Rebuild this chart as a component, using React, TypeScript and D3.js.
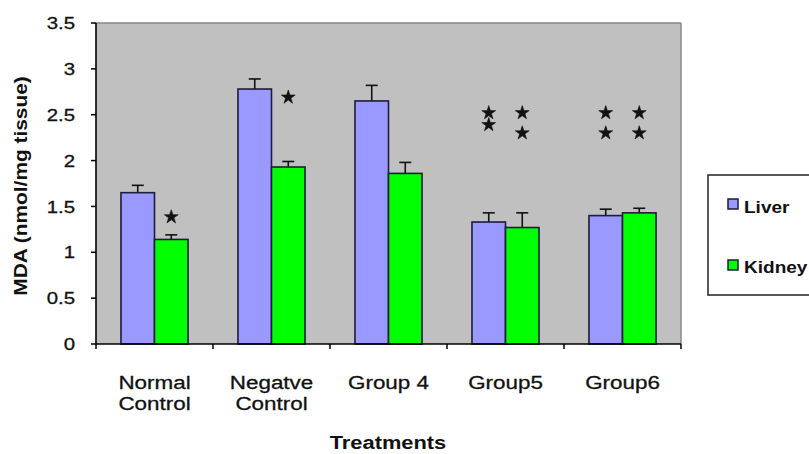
import React from "react";
import * as d3 from "d3";

const categories: string[][] = [
  ["Normal", "Control"],
  ["Negatve", "Control"],
  ["Group 4"],
  ["Group5"],
  ["Group6"],
];
const categoryKeys = ["Normal Control", "Negatve Control", "Group 4", "Group5", "Group6"];
const seriesNames = ["Liver", "Kidney"];
const seriesColors = ["#9999ff", "#00ff00"];
const liver = [1.65, 2.78, 2.65, 1.33, 1.4];
const liverErr = [0.08, 0.11, 0.17, 0.1, 0.07];
const kidney = [1.14, 1.93, 1.86, 1.27, 1.43];
const kidneyErr = [0.05, 0.06, 0.12, 0.16, 0.05];
const yTicks = [0, 0.5, 1, 1.5, 2, 2.5, 3, 3.5];
// significance stars: [category index, series index, y value]
const stars: [number, number, number][] = [
  [0, 1, 1.385],
  [1, 1, 2.69],
  [3, 0, 2.52],
  [3, 0, 2.39],
  [3, 1, 2.52],
  [3, 1, 2.3],
  [4, 0, 2.52],
  [4, 0, 2.3],
  [4, 1, 2.52],
  [4, 1, 2.3],
];

const W = 809;
const H = 454;
const left = 96;
const right = 681;
const top = 23;
const bottom = 344;

export default function App() {
  const x = d3
    .scaleBand<string>()
    .domain(categoryKeys)
    .range([left, right])
    .paddingInner(0.427)
    .paddingOuter(0.2135);
  const xs = d3.scaleBand<string>().domain(seriesNames).range([0, x.bandwidth()]);
  const y = d3.scaleLinear().domain([0, 3.5]).range([bottom, top]);
  const values = [liver, kidney];
  const errs = [liverErr, kidneyErr];
  const step = x.step();
  const boundaries = d3.range(categoryKeys.length + 1).map((i) => left + i * step);
  const starPath = d3.symbol().type(d3.symbolStar).size(60)() as string;
  const font = "Arial, 'Liberation Sans', sans-serif";

  return (
    <svg
      width={W}
      height={H}
      style={{ position: "absolute", left: 0, top: 0, background: "#fff" }}
      fontFamily={font}
    >
      <rect x={left} y={top} width={right - left} height={bottom - top} fill="#c0c0c0" />
      <line x1={left} x2={right} y1={top} y2={top} stroke="#8a8a8a" strokeWidth={1.5} />
      <line x1={right} x2={right} y1={top} y2={bottom} stroke="#8a8a8a" strokeWidth={1.5} />

      {categoryKeys.map((c, ci) =>
        seriesNames.map((s, si) => {
          const v = values[si][ci];
          const e = errs[si][ci];
          const bx = (x(c) as number) + (xs(s) as number);
          const bw = xs.bandwidth();
          const cx = bx + bw / 2;
          return (
            <g key={c + s}>
              <line x1={cx} x2={cx} y1={y(v)} y2={y(v + e)} stroke="#111" strokeWidth={1.6} />
              <line x1={cx - 6} x2={cx + 6} y1={y(v + e)} y2={y(v + e)} stroke="#111" strokeWidth={1.6} />
              <rect
                x={bx}
                y={y(v)}
                width={bw}
                height={y(0) - y(v)}
                fill={seriesColors[si]}
                stroke="#1c1c3c"
                strokeWidth={1.6}
              />
            </g>
          );
        })
      )}

      {stars.map(([ci, si, v], i) => {
        const cx = (x(categoryKeys[ci]) as number) + (xs(seriesNames[si]) as number) + xs.bandwidth() / 2;
        return <path key={i} d={starPath} transform={`translate(${cx},${y(v)})`} fill="#111" stroke="#111" strokeWidth={0.6} />;
      })}

      {/* y axis */}
      <line x1={left} x2={left} y1={top} y2={bottom} stroke="#000" strokeWidth={1.6} />
      {yTicks.map((t) => (
        <g key={t}>
          <line x1={left - 5} x2={left} y1={y(t)} y2={y(t)} stroke="#000" strokeWidth={1.5} />
          <text
            transform={`translate(75,${y(t)}) scale(1.2,1)`}
            textAnchor="end"
            dy="0.36em"
            fontSize={17}
            fill="#111"
            stroke="#111"
            strokeWidth={0.3}
          >
            {String(t)}
          </text>
        </g>
      ))}

      {/* x axis */}
      <line x1={left} x2={right} y1={bottom} y2={bottom} stroke="#000" strokeWidth={1.6} />
      {boundaries.map((b, i) => (
        <line key={i} x1={b} x2={b} y1={bottom} y2={bottom + 5} stroke="#000" strokeWidth={1.5} />
      ))}
      {categories.map((lines, ci) => {
        const cx = (x(categoryKeys[ci]) as number) + x.bandwidth() / 2;
        return lines.map((ln, li) => (
          <text
            key={ci + "-" + li}
            transform={`translate(${cx},${389 + li * 21}) scale(1.18,1)`}
            textAnchor="middle"
            fontSize={19}
            fill="#111"
            stroke="#111"
            strokeWidth={0.3}
          >
            {ln}
          </text>
        ));
      })}

      <text
        transform={`translate(388,449) scale(1.15,1)`}
        textAnchor="middle"
        fontSize={19}
        fontWeight="bold"
        fill="#111"
      >
        Treatments
      </text>
      <text
        transform={`translate(27,186) rotate(-90) scale(1.16,1)`}
        textAnchor="middle"
        fontSize={18}
        fontWeight="bold"
        fill="#111"
      >
        MDA (nmol/mg tissue)
      </text>

      {/* legend */}
      <rect x={708} y={175} width={130} height={120} fill="#fff" stroke="#222" strokeWidth={1.5} />
      {seriesNames.map((s, si) => (
        <g key={s}>
          <rect
            x={728}
            y={199 + si * 61}
            width={10}
            height={10}
            fill={seriesColors[si]}
            stroke="#1c1c3c"
            strokeWidth={1.5}
          />
          <text
            transform={`translate(744,${213 + si * 60}) scale(1.12,1)`}
            fontSize={17}
            fontWeight="bold"
            fill="#111"
          >
            {s}
          </text>
        </g>
      ))}
    </svg>
  );
}
